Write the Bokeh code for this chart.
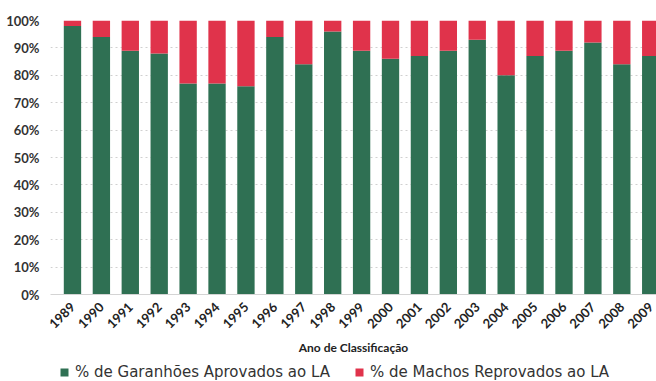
import math
from bokeh.plotting import figure
from bokeh.layouts import column
from bokeh.models import Range1d, FixedTicker, Legend, LegendItem, ColumnDataSource
from bokeh.embed import file_html
from bokeh.resources import INLINE

# Classification years
years = [1989, 1990, 1991, 1992, 1993, 1994, 1995, 1996, 1997, 1998, 1999,
         2000, 2001, 2002, 2003, 2004, 2005, 2006, 2007, 2008, 2009]

# % of stallions approved to the LA (green share)
aprovados = [98, 94, 89, 88, 77, 77, 76, 94, 84, 96, 89,
             86, 87, 89, 93, 80, 87, 89, 92, 84, 87]

# % of males rejected (red share = remainder to 100%)
reprovados = [100 - a for a in aprovados]

series_labels = ["% de Garanhões Aprovados ao LA", "% de Machos Reprovados ao LA"]

y_ticks = [0, 10, 20, 30, 40, 50, 60, 70, 80, 90, 100]
y_tick_labels = {t: f"{t}%" for t in y_ticks}

GREEN = "#2f7053"
RED = "#e0334b"

src = ColumnDataSource(dict(
    year=years,
    aprov=aprovados,
    reprov=reprovados,
))

# ---- main stacked bar chart ----
p = figure(frame_width=606, frame_height=274,
           output_backend="svg", toolbar_location=None,
           x_range=Range1d(years[0] - 0.76, years[-1] + 0.2),
           y_range=Range1d(0, 100))

p.min_border_left = 50
p.min_border_right = 0
p.min_border_top = 20
p.min_border_bottom = 0
p.outline_line_color = None
p.background_fill_color = "white"

bars = p.vbar_stack(["aprov", "reprov"], x="year", width=0.6, source=src,
                    color=[GREEN, RED], line_color=None)

p.xaxis.ticker = FixedTicker(ticks=years)
p.xaxis.major_label_orientation = math.pi / 4
p.xaxis.major_label_text_font = "Lato"
p.xaxis.major_label_text_font_style = "bold"
p.xaxis.major_label_text_font_size = "13px"
p.xaxis.major_label_text_color = "#222222"
p.xaxis.major_tick_line_color = None
p.xaxis.minor_tick_line_color = None
p.xaxis.axis_line_color = "#d4d4d4"
p.xaxis.axis_label = "Ano de Classificação"
p.xaxis.axis_label_text_font = "Lato"
p.xaxis.axis_label_text_font_style = "bold"
p.xaxis.axis_label_text_font_size = "12px"
p.xaxis.axis_label_text_color = "#222222"
p.xaxis.axis_label_standoff = 4
p.xaxis.major_label_standoff = 4

p.yaxis.ticker = FixedTicker(ticks=y_ticks)
p.yaxis.major_label_overrides = y_tick_labels
p.yaxis.major_label_text_font = "Lato"
p.yaxis.major_label_text_font_style = "bold"
p.yaxis.major_label_text_font_size = "13px"
p.yaxis.major_label_text_color = "#333333"
p.yaxis.axis_line_color = None
p.yaxis.major_tick_line_color = None
p.yaxis.minor_tick_line_color = None
p.yaxis.major_label_standoff = 5

p.xgrid.grid_line_color = None
p.ygrid.grid_line_color = "#d0d0d0"
p.ygrid.grid_line_dash = "2 3"
p.ygrid.grid_line_width = 1

# ---- legend strip under the chart ----
# its frame is aligned with the chart frame by the column layout
lg = figure(width=656, height=26, output_backend="svg", toolbar_location=None,
            x_range=Range1d(0, 1), y_range=Range1d(0, 1),
            min_border_left=0, min_border_right=0,
            min_border_top=0, min_border_bottom=0)
lg.axis.visible = False
lg.grid.grid_line_color = None
lg.outline_line_color = None

# swatch renderers share the chart data; they fall outside this strip's range
swatches = [lg.vbar(x="year", top=col, width=0.6, source=src,
                    color=c, line_color=None)
            for col, c in (("aprov", GREEN), ("reprov", RED))]

legend = Legend(items=[LegendItem(label=lbl, renderers=[r])
                       for lbl, r in zip(series_labels, swatches)],
                orientation="horizontal", location=(9, 2))
legend.label_text_font = "DejaVu Sans"
legend.label_text_font_size = "15px"
legend.label_text_color = "#333333"
legend.label_height = 16
legend.glyph_width = 10
legend.glyph_height = 10
legend.spacing = 24
legend.padding = 0
legend.margin = 0
legend.label_standoff = 6
legend.border_line_color = None
legend.background_fill_alpha = 0
lg.add_layout(legend)

layout = column(p, lg, spacing=0)
open("out.html", "w").write(file_html(layout, INLINE))
